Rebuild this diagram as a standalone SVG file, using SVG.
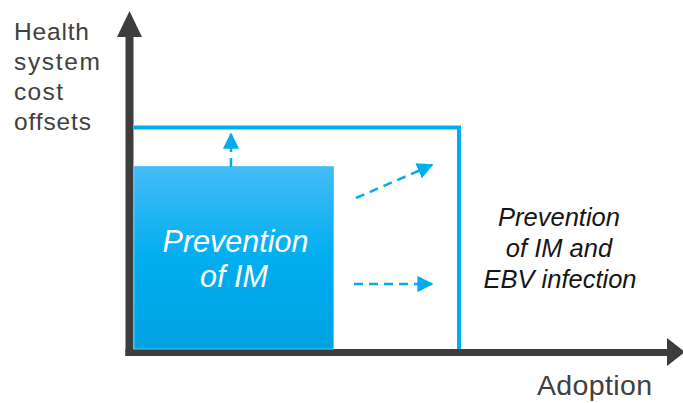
<svg xmlns="http://www.w3.org/2000/svg" width="683" height="403" viewBox="0 0 683 403">
<style>
.lbl{font-family:"Liberation Sans",Arial,sans-serif;fill:#404040;}
.it{font-family:"Liberation Sans",Arial,sans-serif;font-style:italic;}
.dash{stroke:#00aeef;stroke-width:2.5;stroke-dasharray:9,6;fill:none;}
</style>
<defs>
<linearGradient id="g" x1="0" y1="0" x2="0" y2="1">
<stop offset="0" stop-color="#45bcf6"/>
<stop offset="0.5" stop-color="#00aef0"/>
<stop offset="1" stop-color="#00a3e2"/>
</linearGradient>
<marker id="ah" viewBox="0 0 10 10" refX="9" refY="5" markerWidth="6.5" markerHeight="6.5" markerUnits="strokeWidth" orient="auto">
<path d="M0,0 L10,5 L0,10 z" fill="#00aeef"/>
</marker>
</defs>
<g id="axes">
<line x1="129.5" y1="34" x2="129.5" y2="356" stroke="#3d3d3d" stroke-width="8"/>
<polygon points="129.5,11 142,37 117,37" fill="#3d3d3d"/>
<line x1="125.5" y1="352.5" x2="670" y2="352.5" stroke="#3d3d3d" stroke-width="7"/>
<polygon points="685,352 667,338 667,366" fill="#3d3d3d"/>
</g>
<g id="outline-box">
<polyline points="134,127.5 459,127.5 459,349" fill="none" stroke="#00aeef" stroke-width="4"/>
</g>
<g id="im-box">
<rect x="134" y="166.5" width="199.5" height="182.5" fill="url(#g)" stroke="#5cc8f7" stroke-width="1"/>
<text class="it" x="235.5" y="252" font-size="30.5" fill="#ffffff" text-anchor="middle">Prevention</text>
<text class="it" x="234" y="287" font-size="30.5" fill="#ffffff" text-anchor="middle">of IM</text>
</g>
<g id="ebv-label">
<text class="it" x="559" y="226" font-size="25.5" fill="#151515" text-anchor="middle">Prevention</text>
<text class="it" x="559" y="257" font-size="25.5" fill="#151515" text-anchor="middle">of IM and</text>
<text class="it" x="560" y="288" font-size="25.5" fill="#151515" text-anchor="middle">EBV infection</text>
</g>
<g id="connectors">
<line class="dash" x1="231" y1="167" x2="231" y2="134" marker-end="url(#ah)" stroke-dasharray="8,5"/>
<line class="dash" x1="356" y1="198" x2="432" y2="165" marker-end="url(#ah)"/>
<line class="dash" x1="354" y1="284" x2="432" y2="284" marker-end="url(#ah)"/>
</g>
<g id="axis-labels">
<text class="lbl" x="14" y="40" font-size="24.5" textLength="75" lengthAdjust="spacing">Health</text>
<text class="lbl" x="14" y="70" font-size="24.5" textLength="86" lengthAdjust="spacing">system</text>
<text class="lbl" x="14" y="100" font-size="24.5" textLength="49" lengthAdjust="spacing">cost</text>
<text class="lbl" x="14" y="130" font-size="24.5" textLength="77" lengthAdjust="spacing">offsets</text>
<text class="lbl" x="537" y="395" font-size="28.5" textLength="115" lengthAdjust="spacing">Adoption</text>
</g>
</svg>
